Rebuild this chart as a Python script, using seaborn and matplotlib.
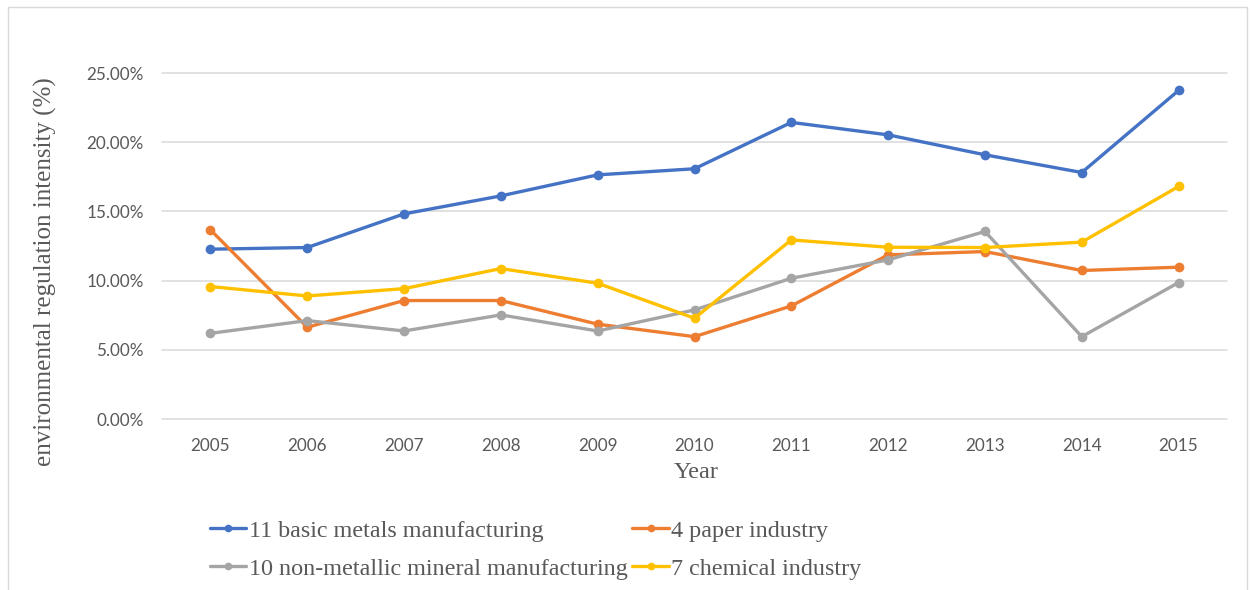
import numpy as np
import pandas as pd
import matplotlib
matplotlib.use("Agg")
import matplotlib.pyplot as plt
import seaborn as sns
from matplotlib.patches import Rectangle
from matplotlib.ticker import FuncFormatter

years = ["2005", "2006", "2007", "2008", "2009", "2010", "2011", "2012", "2013", "2014", "2015"]
basic_metals = [12.27, 12.39, 14.82, 16.12, 17.64, 18.08, 21.43, 20.53, 19.09, 17.81, 23.74]
paper = [13.67, 6.63, 8.56, 8.56, 6.85, 5.95, 8.17, 11.86, 12.10, 10.73, 10.97]
non_metallic = [6.19, 7.11, 6.36, 7.52, 6.36, 7.88, 10.17, 11.50, 13.55, 5.95, 9.86]
chemical = [9.57, 8.89, 9.42, 10.87, 9.81, 7.28, 12.94, 12.41, 12.39, 12.78, 16.80]
series_names = ["11 basic metals manufacturing", "4 paper industry",
                "10 non-metallic mineral manufacturing", "7 chemical industry"]
colors = ["#4472C4", "#ED7D31", "#A5A5A5", "#FFC000"]

rows = []
for name, vals in zip(series_names, [basic_metals, paper, non_metallic, chemical]):
    for i, (y, v) in enumerate(zip(years, vals)):
        rows.append({"idx": i, "year": y, "value": v, "series": name})
df = pd.DataFrame(rows)

sns.set_theme(style="white")
W, H = 1251, 590
fig = plt.figure(figsize=(W / 100, H / 100), dpi=100)
ax = fig.add_axes([162 / W, (H - 419) / H, (1227 - 162) / W, (419 - 73) / H])

sns.lineplot(data=df, x="idx", y="value", hue="series", hue_order=series_names,
             palette=colors, marker="o", markersize=7, markeredgewidth=0,
             linewidth=2.4, ax=ax, legend=False, sort=False)

ax.set_xlim(-0.5, len(years) - 0.5)
ax.set_ylim(0, 25)
ax.set_yticks([0, 5, 10, 15, 20, 25])
ax.yaxis.set_major_formatter(FuncFormatter(lambda v, p: f"{v:.2f}%"))
ax.set_xticks(range(len(years)))
ax.set_xticklabels(years)
ax.grid(axis="y", color="#D9D9D9", linewidth=1.1)
ax.grid(axis="x", visible=False)
for gl in ax.get_ygridlines():
    gl.set_clip_on(False)
ax.set_axisbelow(True)
for s in ax.spines.values():
    s.set_visible(False)
ax.tick_params(axis="both", length=0, labelsize=12.3, labelcolor="#595959")
ax.tick_params(axis="y", pad=13)
ax.tick_params(axis="x", pad=14)
for lab in ax.get_xticklabels() + ax.get_yticklabels():
    lab.set_fontfamily("Lato")
ax.set_xlabel("")
ax.set_ylabel("")

serif = "Liberation Serif"
fig.text(696 / W, (H - 472) / H, "Year", ha="center", va="center",
         fontfamily=serif, fontsize=17.5, color="#595959")
fig.text(45 / W, (H - 272) / H, "environmental regulation intensity (%)",
         ha="center", va="center", rotation=90, fontfamily=serif,
         fontsize=18, color="#595959")

handles = [plt.Line2D([], [], color=c, marker="o", markersize=5.5, markeredgewidth=0,
                      linewidth=2.4) for c in colors]
order = [0, 2, 1, 3]
leg = fig.legend([handles[i] for i in order], [series_names[i] for i in order],
                 ncol=2, loc="upper left", bbox_to_anchor=(210 / W, (H - 520) / H),
                 frameon=False, prop={"family": serif, "size": 17.4},
                 handlelength=1.5, handletextpad=0.1, columnspacing=0.2,
                 labelspacing=0.65, borderaxespad=0, borderpad=0)
for t in leg.get_texts():
    t.set_color("#595959")

fig.patches.append(Rectangle((8 / W, -0.05), (1247 - 8) / W, 1.05 - 7 / H,
                             transform=fig.transFigure, fill=False,
                             edgecolor="#D9D9D9", linewidth=1))

fig.savefig("out.png", dpi=100, facecolor="white")
